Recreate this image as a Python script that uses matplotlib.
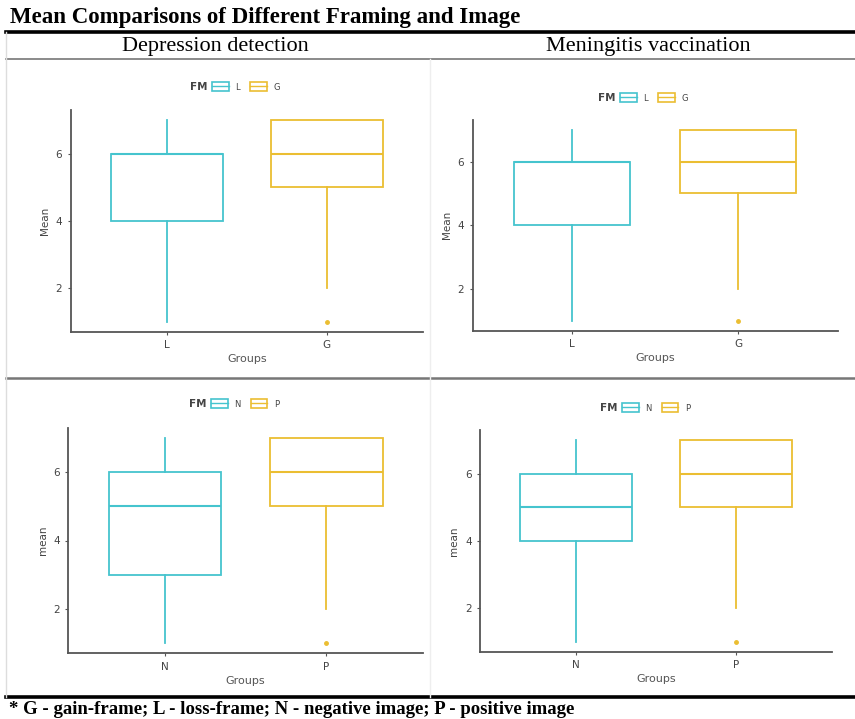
import matplotlib
matplotlib.use("Agg")
import matplotlib.pyplot as plt
from matplotlib.patches import Patch
from matplotlib.lines import Line2D

W, H = 855, 719

CYAN = "#45C4CE"
GOLD = "#EBBE32"

title = "Mean Comparisons of Different Framing and Image"
col_titles = ["Depression detection", "Meningitis vaccination"]
footnote = "* G - gain-frame; L - loss-frame; N - negative image; P - positive image"

# box stats per panel: [whislo, q1, med, q3, whishi]
frame_groups = ["L", "G"]
image_groups = ["N", "P"]
dep_frame = [[1, 4, 6, 6, 7], [2, 5, 6, 7, 7]]
men_frame = [[1, 4, 6, 6, 7], [2, 5, 6, 7, 7]]
dep_image = [[1, 3, 5, 6, 7], [2, 5, 6, 7, 7]]
men_image = [[1, 4, 5, 6, 7], [2, 5, 6, 7, 7]]
outliers = [[], [1]]

panels = [
    # data, groups, ylabel, axes px (left, right, top, bottom), legend y px, FM x px
    (dep_frame, frame_groups, "Mean", (70.7, 423, 110, 331.7), 87, 190),
    (men_frame, frame_groups, "Mean", (472.7, 838, 120, 330.7), 98, 598),
    (dep_image, image_groups, "mean", (68.3, 423, 427.7, 653.3), 404, 189),
    (men_image, image_groups, "mean", (480, 832.3, 430, 651.7), 408, 600),
]

fig = plt.figure(figsize=(W / 100, H / 100), dpi=100)
fig.patch.set_facecolor("white")


def fx(x):
    return x / W


def fy(y):
    return 1 - y / H


# table frame lines
fig.add_artist(plt.Line2D([fx(6), fx(855)], [fy(32), fy(32)], color="black", lw=2.6))
fig.add_artist(plt.Line2D([fx(6), fx(855)], [fy(59), fy(59)], color="#777777", lw=1.2))
fig.add_artist(plt.Line2D([fx(6), fx(855)], [fy(378), fy(378)], color="#777777", lw=1.8))
fig.add_artist(plt.Line2D([fx(6), fx(855)], [fy(697), fy(697)], color="black", lw=2.6))
fig.add_artist(plt.Line2D([fx(6), fx(6)], [fy(32), fy(697)], color="#dddddd", lw=1))
fig.add_artist(plt.Line2D([fx(430), fx(430)], [fy(59), fy(697)], color="#eeeeee", lw=1))

fig.text(fx(10), fy(18), title, family="Liberation Serif", fontweight="bold",
         fontsize=16.5, va="center", ha="left")
fig.text(fx(215), fy(46), col_titles[0], family="Liberation Serif",
         fontsize=16, va="center", ha="center")
fig.text(fx(648), fy(46), col_titles[1], family="Liberation Serif",
         fontsize=16, va="center", ha="center")
fig.text(fx(9), fy(709), footnote, family="Liberation Serif", fontweight="bold",
         fontsize=13.5, va="center", ha="left")

for data, groups, ylab, (l, r, t, b), leg_y, fm_x in panels:
    ax = fig.add_axes([fx(l), fy(b), fx(r) - fx(l), fy(t) - fy(b)])
    colors = [CYAN, GOLD]
    stats = []
    for i, s in enumerate(data):
        stats.append(dict(whislo=s[0], q1=s[1], med=s[2], q3=s[3],
                          whishi=s[4], fliers=outliers[i], label=groups[i]))
    bp = ax.bxp(stats, positions=[1, 2], widths=0.7, showcaps=False,
                patch_artist=True)
    for i, c in enumerate(colors):
        bp["boxes"][i].set(facecolor="white", edgecolor=c, lw=1.3)
        bp["medians"][i].set(color=c, lw=1.5)
        for w in bp["whiskers"][2 * i:2 * i + 2]:
            w.set(color=c, lw=1.3)
        bp["fliers"][i].set(marker="o", markerfacecolor=c, markeredgecolor=c,
                            markersize=2.5)
    ax.set_xlim(0.4, 2.6)
    ax.set_ylim(0.7, 7.3)
    ax.set_yticks([2, 4, 6])
    for side in ["top", "right"]:
        ax.spines[side].set_visible(False)
    for side in ["left", "bottom"]:
        ax.spines[side].set_color("#555555")
        ax.spines[side].set_linewidth(1.3)
    ax.tick_params(colors="#555555", labelsize=7.5, length=2.5, width=0.8,
                   labelcolor="#444444")
    ax.set_xlabel("Groups", fontsize=8, color="#555555", labelpad=3)
    ax.set_ylabel(ylab, fontsize=7.5, color="#444444", labelpad=4)

    # legend on top, ggplot style
    handles = [(Patch(facecolor="white", edgecolor=c, lw=1.2),
                Line2D([], [], color=c, lw=1)) for c in colors]
    ax.text((fm_x - l) / (r - l), (b - leg_y) / (b - t), "FM", transform=ax.transAxes,
            fontsize=7.5, color="#444444", fontweight="bold", va="center", ha="left")
    ax.legend(handles, groups, ncol=2, frameon=False, fontsize=6,
              loc="center left", handlelength=2.0, handleheight=1.2,
              handletextpad=0.8, columnspacing=1.2, labelcolor="#444444",
              bbox_to_anchor=((fm_x + 22 - l) / (r - l), (b - leg_y) / (b - t)),
              borderpad=0, borderaxespad=0)

fig.savefig("out.png", dpi=100)
